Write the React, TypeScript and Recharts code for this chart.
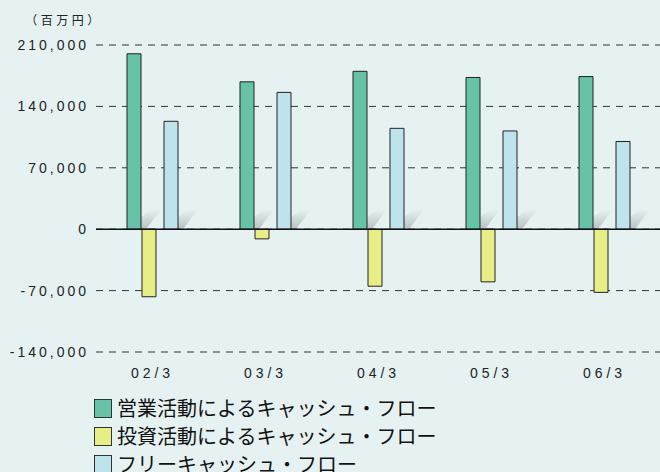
import React from 'react';
import { BarChart, Bar, XAxis, YAxis, CartesianGrid, ReferenceLine, Rectangle } from 'recharts';

const categories = ['02/3', '03/3', '04/3', '05/3', '06/3'];
const operatingCF = [200000, 168000, 180000, 173000, 174000];
const investingCF = [-77000, -11000, -65000, -60000, -72000];
const freeCF = [123000, 156000, 115000, 112000, 100000];
const yTicks = [-140000, -70000, 0, 70000, 140000, 210000];
const unitLabel = '（百万円）';
const seriesNames = [
  '営業活動によるキャッシュ・フロー',
  '投資活動によるキャッシュ・フロー',
  'フリーキャッシュ・フロー',
];

const COLORS = ['#66c3a7', '#e8ee86', '#bfe3ec'];
const BG = '#e6f2f2';
const NUM_FONT = '"Liberation Sans", Arial, sans-serif';
const JP_FONT = '"Noto Sans CJK JP", "Noto Sans", sans-serif';

const data = categories.map((c, i) => ({
  name: c,
  op: operatingCF[i],
  inv: investingCF[i],
  free: freeCF[i],
}));

const ShadowBar = (props: any) => {
  const { x, y, width, height, fill } = props;
  if (width == null || height == null) return null;
  const base = y + height;
  const r = x + width;
  return (
    <g>
      <polygon
        points={`${r},${base} ${r + 5},${base} ${r + 20},${base - 20} ${r + 10},${base - 20} ${r},${base - 12}`}
        fill="url(#shadowGrad)"
      />
      <Rectangle x={x} y={y} width={width} height={height} fill={fill} stroke="#222" strokeWidth={1} />
    </g>
  );
};

const Legend = () => (
  <div
    style={{
      position: 'absolute',
      left: 94,
      top: 394,
      fontFamily: JP_FONT,
      fontSize: 20,
      color: '#111',
      lineHeight: '28px',
    }}
  >
    {seriesNames.map((n, i) => (
      <div key={n} style={{ display: 'flex', alignItems: 'center', height: 28 }}>
        <span
          style={{
            display: 'inline-block',
            width: 16,
            height: 17,
            background: COLORS[i],
            border: '1px solid #333',
            marginRight: 5,
          }}
        />
        <span style={{ whiteSpace: 'nowrap' }}>{n}</span>
      </div>
    ))}
  </div>
);

export default function App() {
  return (
    <div
      style={{
        position: 'fixed',
        left: 0,
        top: 0,
        width: 660,
        height: 472,
        background: BG,
        overflow: 'hidden',
      }}
    >
      <BarChart
        width={661}
        height={472}
        data={data}
        margin={{ top: 45, right: 0, left: 0, bottom: 90 }}
        barGap={1}
        barCategoryGap={0}
      >
        <defs>
          <linearGradient id="shadowGrad" x1="0" y1="1" x2="0" y2="0">
            <stop offset="0%" stopColor="#000" stopOpacity={0.2} />
            <stop offset="100%" stopColor="#000" stopOpacity={0} />
          </linearGradient>
        </defs>
        <CartesianGrid vertical={false} stroke="#333" strokeDasharray="7 6" />
        <XAxis
          dataKey="name"
          axisLine={false}
          tickLine={false}
          height={30}
          tickMargin={10}
          interval={0}
          tick={{ fill: '#222', fontSize: 14, fontFamily: NUM_FONT, letterSpacing: 4 }}
        />
        <YAxis
          width={96}
          domain={[-140000, 210000]}
          ticks={yTicks}
          axisLine={false}
          tickLine={false}
          tickMargin={1}
          interval={0}
          tickFormatter={(v: number) => v.toLocaleString('en-US')}
          tick={{ fill: '#222', fontSize: 14, fontFamily: NUM_FONT, letterSpacing: 3 }}
          label={{
            value: unitLabel,
            position: 'top',
            offset: 20,
            dx: 16,
            fontSize: 12,
            letterSpacing: 3.5,
            fill: '#222',
            fontFamily: JP_FONT,
          }}
        />
        <ReferenceLine y={0} stroke="#111" strokeWidth={1.5} />
        <Bar dataKey="op" name={seriesNames[0]} fill={COLORS[0]} barSize={14} shape={ShadowBar} isAnimationActive={false} />
        <Bar dataKey="inv" name={seriesNames[1]} fill={COLORS[1]} barSize={14} stroke="#222" strokeWidth={1} isAnimationActive={false} />
        <Bar dataKey={() => 0} barSize={6} fill="none" legendType="none" isAnimationActive={false} />
        <Bar dataKey="free" name={seriesNames[2]} fill={COLORS[2]} barSize={14} shape={ShadowBar} isAnimationActive={false} />
      </BarChart>
      <Legend />
    </div>
  );
}
